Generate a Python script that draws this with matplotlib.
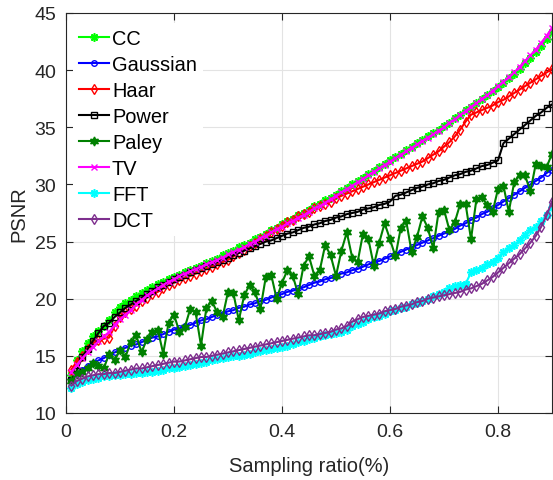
import numpy as np
import matplotlib
matplotlib.use("Agg")
import matplotlib.pyplot as plt

plt.rcParams['font.family'] = ['Liberation Sans', 'DejaVu Sans']

# sampling ratios 0.01 ... 0.90
ratio = np.arange(1, 91) / 100.0

cc = [13.3, 14.6, 15.4, 16.1, 16.7, 17.2, 17.6, 18.1, 18.8, 19.3,
      19.6, 19.9, 20.2, 20.5, 20.8, 21.0, 21.3, 21.5, 21.7, 21.9,
      22.1, 22.3, 22.5, 22.7, 22.9, 23.1, 23.3, 23.5, 23.8, 24.0,
      24.2, 24.5, 24.7, 24.9, 25.2, 25.4, 25.7, 26.0, 26.2, 26.5,
      26.8, 27.0, 27.3, 27.5, 27.8, 28.1, 28.3, 28.6, 28.8, 29.1,
      29.4, 29.7, 30.0, 30.3, 30.6, 30.9, 31.2, 31.5, 31.8, 32.1,
      32.4, 32.7, 33.0, 33.3, 33.6, 33.9, 34.2, 34.5, 34.8, 35.1,
      35.4, 35.8, 36.1, 36.5, 36.8, 37.1, 37.5, 37.8, 38.2, 38.5,
      38.9, 39.3, 39.7, 40.1, 40.6, 41.1, 41.6, 42.1, 42.7, 43.3]

gaussian = [12.9, 13.4, 13.8, 14.1, 14.4, 14.6, 14.8, 15.1, 15.3, 15.5,
            15.7, 15.9, 16.0, 16.2, 16.4, 16.6, 16.7, 16.9, 17.1, 17.3,
            17.4, 17.6, 17.7, 17.9, 18.1, 18.2, 18.4, 18.6, 18.7, 18.9,
            19.0, 19.2, 19.3, 19.5, 19.6, 19.8, 19.9, 20.1, 20.3, 20.4,
            20.6, 20.7, 20.9, 21.0, 21.2, 21.4, 21.5, 21.7, 21.8, 22.0,
            22.2, 22.3, 22.5, 22.6, 22.8, 23.0, 23.2, 23.3, 23.5, 23.7,
            23.9, 24.1, 24.3, 24.5, 24.7, 24.9, 25.1, 25.3, 25.5, 25.7,
            25.9, 26.1, 26.4, 26.6, 26.9, 27.1, 27.4, 27.6, 27.9, 28.2,
            28.5, 28.8, 29.1, 29.4, 29.7, 30.0, 30.3, 30.6, 31.0, 31.3]

haar = [13.8, 14.5, 15.0, 15.6, 16.1, 16.4, 16.5, 16.6, 17.6, 18.4,
        18.8, 19.1, 19.4, 19.8, 20.1, 20.4, 20.6, 20.9, 21.2, 21.4,
        21.6, 21.8, 22.0, 22.2, 22.4, 22.6, 22.8, 23.0, 23.2, 23.4,
        23.7, 24.0, 24.3, 24.6, 24.9, 25.2, 25.5, 25.8, 26.1, 26.4,
        26.7, 26.9, 27.2, 27.4, 27.6, 27.9, 28.1, 28.3, 28.5, 28.8,
        29.0, 29.2, 29.4, 29.6, 29.8, 30.0, 30.2, 30.4, 30.6, 30.8,
        31.0, 31.2, 31.4, 31.6, 31.8, 32.0, 32.3, 32.6, 32.9, 33.3,
        33.7, 34.2, 34.8, 35.5, 36.1, 36.3, 36.5, 36.7, 36.9, 37.2,
        37.4, 37.7, 38.0, 38.3, 38.6, 38.9, 39.2, 39.5, 39.8, 40.1]

power = [12.9, 13.7, 14.9, 15.6, 16.3, 17.0, 17.6, 17.9, 18.4, 18.8,
         19.2, 19.5, 19.8, 20.1, 20.4, 20.7, 21.0, 21.2, 21.5, 21.7,
         21.9, 22.1, 22.3, 22.5, 22.7, 22.9, 23.0, 23.2, 23.4, 23.6,
         23.8, 24.0, 24.2, 24.4, 24.6, 24.8, 25.0, 25.1, 25.3, 25.5,
         25.7, 25.8, 26.0, 26.2, 26.3, 26.5, 26.6, 26.8, 26.9, 27.1,
         27.2, 27.4, 27.5, 27.6, 27.8, 27.9, 28.0, 28.2, 28.3, 28.5,
         29.0, 29.1, 29.3, 29.5, 29.7, 29.8, 30.0, 30.1, 30.3, 30.4,
         30.6, 30.8, 30.9, 31.1, 31.2, 31.4, 31.6, 31.7, 31.9, 32.1,
         33.6, 34.0, 34.4, 34.8, 35.2, 35.6, 36.0, 36.3, 36.7, 37.0]

paley = [12.8, 13.4, 13.6, 13.9, 14.4, 14.1, 13.9, 15.2, 14.6, 15.5,
         14.9, 16.2, 16.8, 15.3, 16.5, 17.1, 17.3, 15.2, 17.9, 18.6,
         17.1, 17.5, 19.1, 18.8, 15.9, 19.2, 19.8, 18.8, 18.4, 20.6,
         20.5, 18.1, 20.3, 21.2, 20.6, 19.1, 21.9, 22.1, 20.0, 21.4,
         22.5, 22.0, 20.4, 22.9, 23.7, 22.0, 22.5, 24.7, 23.8, 22.0,
         24.2, 25.8, 23.6, 23.2, 25.7, 25.2, 22.9, 24.9, 26.6, 25.2,
         23.7, 26.2, 26.8, 24.1, 25.4, 27.2, 26.2, 24.4, 27.6, 27.8,
         26.0, 26.7, 28.3, 28.3, 25.2, 28.7, 28.9, 28.2, 27.6, 29.6,
         29.9, 27.6, 30.2, 30.8, 30.8, 29.4, 31.8, 31.6, 31.5, 32.7]

tv = [13.6, 14.2, 14.8, 15.3, 15.8, 16.3, 16.7, 17.1, 17.7, 18.2,
      18.6, 19.0, 19.5, 19.9, 20.3, 20.6, 20.9, 21.2, 21.5, 21.7,
      22.0, 22.2, 22.4, 22.6, 22.8, 23.0, 23.2, 23.4, 23.6, 23.9,
      24.1, 24.3, 24.5, 24.8, 25.0, 25.3, 25.5, 25.8, 26.1, 26.3,
      26.6, 26.8, 27.1, 27.3, 27.6, 27.9, 28.1, 28.4, 28.7, 29.0,
      29.3, 29.6, 29.9, 30.2, 30.5, 30.8, 31.1, 31.4, 31.7, 32.0,
      32.3, 32.6, 32.9, 33.2, 33.5, 33.8, 34.1, 34.4, 34.7, 35.0,
      35.4, 35.7, 36.1, 36.4, 36.8, 37.1, 37.5, 37.8, 38.2, 38.6,
      39.0, 39.4, 39.8, 40.3, 40.8, 41.3, 41.8, 42.4, 43.0, 43.7]

fft = [12.2, 12.5, 12.7, 12.9, 13.0, 13.1, 13.2, 13.2, 13.3, 13.3,
       13.4, 13.4, 13.5, 13.5, 13.6, 13.6, 13.7, 13.8, 13.9, 13.9,
       14.0, 14.1, 14.2, 14.3, 14.4, 14.5, 14.6, 14.7, 14.8, 14.9,
       15.0, 15.0, 15.1, 15.2, 15.3, 15.4, 15.5, 15.6, 15.7, 15.8,
       15.9, 16.0, 16.2, 16.3, 16.5, 16.6, 16.7, 16.8, 16.9, 17.0,
       17.1, 17.3, 17.6, 17.8, 18.0, 18.2, 18.4, 18.5, 18.7, 18.9,
       19.0, 19.2, 19.3, 19.5, 19.6, 19.8, 20.0, 20.2, 20.4, 20.6,
       20.9, 21.1, 21.2, 21.3, 22.3, 22.5, 22.7, 23.0, 23.2, 23.6,
       24.1, 24.4, 24.7, 25.1, 25.6, 26.0, 26.3, 26.8, 27.3, 28.0]

dct = [12.4, 12.8, 13.0, 13.2, 13.3, 13.4, 13.4, 13.5, 13.5, 13.6,
       13.7, 13.8, 13.9, 13.9, 14.0, 14.1, 14.2, 14.3, 14.4, 14.5,
       14.5, 14.6, 14.7, 14.8, 14.9, 14.9, 15.0, 15.1, 15.2, 15.3,
       15.4, 15.5, 15.6, 15.7, 15.8, 15.9, 16.0, 16.1, 16.2, 16.3,
       16.4, 16.5, 16.6, 16.7, 16.8, 16.8, 16.9, 17.0, 17.1, 17.3,
       17.4, 17.6, 18.0, 18.2, 18.4, 18.5, 18.6, 18.7, 18.9, 19.0,
       19.1, 19.3, 19.4, 19.5, 19.7, 19.8, 20.0, 20.1, 20.2, 20.3,
       20.4, 20.5, 20.6, 20.8, 20.9, 21.1, 21.3, 21.6, 21.9, 22.3,
       22.7, 23.1, 23.5, 23.9, 24.4, 24.9, 25.5, 26.3, 27.3, 28.5]

asterisk = (8, 2, 0)
hexagram = (6, 1, 0)

fig = plt.figure(figsize=(5.53, 4.81), dpi=100)
ax = fig.add_axes([66/553, 67/481, 486/553, 400/481])

ax.plot(ratio, cc, '-', marker=asterisk, color=(0, 1, 0), lw=1.5, ms=6, mew=1.2, label='CC')
ax.plot(ratio, gaussian, '-o', color=(0, 0, 1), lw=1.5, ms=4, mfc='none', label='Gaussian')
ax.plot(ratio, haar, '-d', color=(1, 0, 0), lw=1.5, ms=5, mfc='none', label='Haar')
ax.plot(ratio, power, '-s', color='k', lw=1.5, ms=4.5, mfc='none', label='Power')
ax.plot(ratio, paley, '-', marker=hexagram, color=(0, 0.5, 0), lw=1.5, ms=6.5, label='Paley')
ax.plot(ratio, tv, '-x', color=(1, 0, 1), lw=1.5, ms=5, label='TV')
ax.plot(ratio, fft, '-', marker=asterisk, color=(0, 1, 1), lw=1.5, ms=6, mew=1.2, label='FFT')
ax.plot(ratio, dct, '-d', color=(0.494, 0.184, 0.556), lw=1.5, ms=5, mfc='none', label='DCT')

ax.set_xlim(0, 0.9)
ax.set_ylim(10, 45)
ax.set_xticks([0, 0.2, 0.4, 0.6, 0.8])
ax.set_xticklabels(['0', '0.2', '0.4', '0.6', '0.8'])
ax.set_yticks(np.arange(10, 46, 5))
ax.grid(True, color='#e3e3e3', lw=0.8)
ax.set_axisbelow(True)
ax.tick_params(direction='in', top=True, right=True, labelsize=14, colors='#262626',
               length=5, pad=7)
for s in ax.spines.values():
    s.set_color('#262626')
ax.set_xlabel('Sampling ratio(%)', fontsize=14.5, color='#262626', labelpad=12)
ax.set_ylabel('PSNR', fontsize=14.5, color='#262626', labelpad=4)

leg = ax.legend(loc='upper left', bbox_to_anchor=(0.0, 0.9925), fontsize=14.4,
                frameon=True, fancybox=False, edgecolor='none', framealpha=1,
                handlelength=1.5, handletextpad=0.15, labelspacing=0.35,
                borderaxespad=0.35, borderpad=0.3)

fig.savefig('out.png', dpi=100)
